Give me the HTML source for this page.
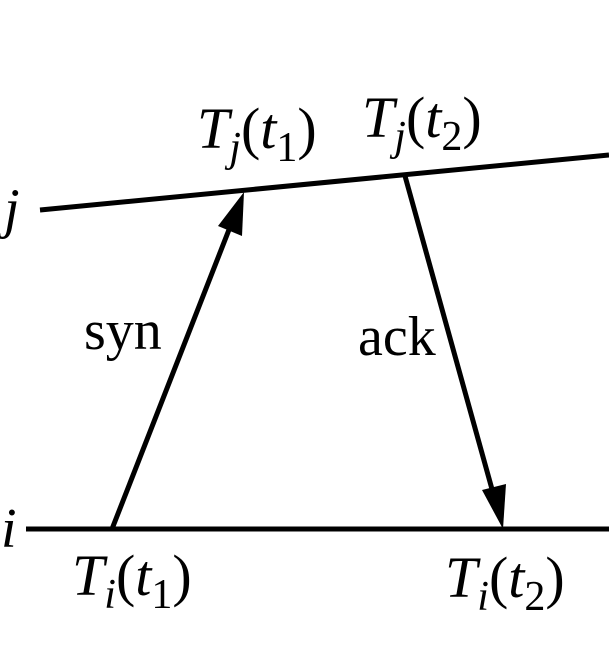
<!DOCTYPE html>
<html><head><style>body{margin:0;background:#fff}svg{display:block}</style></head><body>
<svg width="609" height="666" viewBox="0 0 609 666" xmlns="http://www.w3.org/2000/svg" font-family="Liberation Serif, serif" font-size="56">
<line x1="40" y1="210" x2="609" y2="155" stroke="#000" stroke-width="5"/>
<line x1="26" y1="529" x2="609" y2="529" stroke="#000" stroke-width="5"/>
<line x1="112" y1="529" x2="232" y2="222" stroke="#000" stroke-width="5"/>
<polygon points="244,192 242,236 218,226" fill="#000"/>
<line x1="405" y1="176" x2="495" y2="500" stroke="#000" stroke-width="5"/>
<polygon points="503,529 482,490 506,484" fill="#000"/>
<text x="1" y="547" font-style="italic">i</text>
<text x="4" y="227" font-style="italic">j</text>
<text x="84" y="349">syn</text>
<text x="358" y="355">ack</text>
<g font-size="58">
<text x="197" y="148"><tspan font-style="italic">T</tspan><tspan font-style="italic" font-size="42" dy="13">j</tspan><tspan dy="-13">(</tspan><tspan font-style="italic">t</tspan><tspan font-size="42" dy="13">1</tspan><tspan dy="-13">)</tspan></text>
<text x="362" y="137"><tspan font-style="italic">T</tspan><tspan font-style="italic" font-size="42" dy="13">j</tspan><tspan dy="-13">(</tspan><tspan font-style="italic">t</tspan><tspan font-size="42" dy="13">2</tspan><tspan dy="-13">)</tspan></text>
<text x="72" y="595"><tspan font-style="italic">T</tspan><tspan font-style="italic" font-size="42" dy="13">i</tspan><tspan dy="-13">(</tspan><tspan font-style="italic">t</tspan><tspan font-size="42" dy="13">1</tspan><tspan dy="-13">)</tspan></text>
<text x="445" y="597"><tspan font-style="italic">T</tspan><tspan font-style="italic" font-size="42" dy="13">i</tspan><tspan dy="-13">(</tspan><tspan font-style="italic">t</tspan><tspan font-size="42" dy="13">2</tspan><tspan dy="-13">)</tspan></text>
</g>
</svg>
</body></html>
